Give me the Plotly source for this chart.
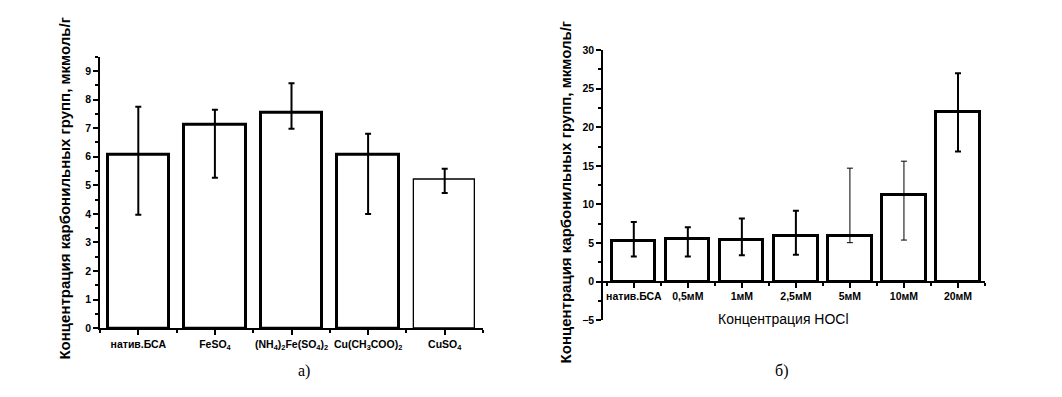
import plotly.graph_objects as go

# ---- data: panel a ----
cats_a = ["натив.БСА", "FeSO<sub>4</sub>", "(NH<sub>4</sub>)<sub>2</sub>Fe(SO<sub>4</sub>)<sub>2</sub>",
          "Cu(CH<sub>3</sub>COO)<sub>2</sub>", "CuSO<sub>4</sub>"]
vals_a = [6.08, 7.13, 7.53, 6.06, 5.21]
err_hi_a = [7.75, 7.64, 8.57, 6.80, 5.58]
err_lo_a = [3.97, 5.26, 6.98, 4.00, 4.73]

# ---- data: panel b ----
cats_b = ["натив.БСА", "0,5мМ", "1мМ", "2,5мМ", "5мМ", "10мМ", "20мМ"]
vals_b = [5.23, 5.52, 5.36, 5.94, 5.98, 11.3, 21.96]
err_hi_b = [7.74, 7.06, 8.19, 9.2, 14.7, 15.6, 26.98]
err_lo_b = [3.26, 3.26, 3.43, 3.51, 5.06, 5.4, 16.85]

ytitle = "Концентрация карбонильных групп, мкмоль/г"
xtitle_b = "Концентрация HOCl"

FONT = "Liberation Sans, Arial, sans-serif"

fig = go.Figure()

xa = list(range(len(cats_a)))
xb = list(range(len(cats_b)))

# bars panel a
fig.add_trace(go.Bar(
    x=xa, y=vals_a, width=0.8, xaxis="x", yaxis="y",
    marker=dict(color="white", line=dict(color="black", width=[3, 3, 3, 3, 1.3])),
    error_y=dict(type="data", symmetric=False,
                 array=[h - v for h, v in zip(err_hi_a, vals_a)],
                 arrayminus=[v - l for l, v in zip(err_lo_a, vals_a)],
                 color="black", thickness=2, width=3),
    showlegend=False, hoverinfo="skip"))

# bars panel b
fig.add_trace(go.Bar(
    x=xb, y=vals_b, width=0.8, xaxis="x2", yaxis="y2",
    marker=dict(color="white", line=dict(color="black", width=3)),
    showlegend=False, hoverinfo="skip"))

thin_b = [4, 5]
for group, th in (([i for i in xb if i not in thin_b], 2), (thin_b, 1)):
    fig.add_trace(go.Scatter(
        x=[xb[i] for i in group], y=[vals_b[i] for i in group],
        mode="markers", marker=dict(size=1, color="rgba(0,0,0,0)"),
        xaxis="x2", yaxis="y2",
        error_y=dict(type="data", symmetric=False,
                     array=[err_hi_b[i] - vals_b[i] for i in group],
                     arrayminus=[vals_b[i] - err_lo_b[i] for i in group],
                     color="black", thickness=th, width=3),
        showlegend=False, hoverinfo="skip"))

W, H = 1062, 397
OX, OY = 8, 8  # page body margin offset


def px(x):
    return (x - OX) / W


def py(y):
    return 1 - (y - OY) / H


ya_dom = [py(332), py(52)]
yb_dom = [py(324), py(45)]
yb_range = [-5, 30]
xb_pos = yb_dom[0] + (0 - yb_range[0]) / (yb_range[1] - yb_range[0]) * (yb_dom[1] - yb_dom[0])

tickfont = dict(family=FONT, size=10.5, color="black", weight="bold")
axline = dict(showline=True, linecolor="black", linewidth=1.5, showgrid=False,
              zeroline=False, ticks="outside", tickcolor="black", tickwidth=1.5)

fig.update_layout(
    width=W, height=H, margin=dict(l=0, r=0, t=0, b=0),
    paper_bgcolor="white", plot_bgcolor="white", bargap=0,
    xaxis=dict(domain=[px(100), px(483)], range=[-0.5, 4.5], anchor="y",
               tickvals=xa, ticktext=cats_a, ticklen=5, tickfont=tickfont,
               minor=dict(tick0=0.5, dtick=1, ticklen=3, ticks="outside", tickcolor="black"),
               **axline),
    yaxis=dict(domain=ya_dom, range=[0, 9.5], anchor="x", dtick=1, ticklen=5,
               tickfont=tickfont,
               minor=dict(dtick=0.5, ticklen=3, ticks="outside", tickcolor="black"),
               **axline),
    xaxis2=dict(domain=[px(603), px(985)], range=[-0.57, 6.5], anchor="free",
                position=xb_pos, tickvals=xb, ticktext=cats_b, ticklen=5,
                tickfont=tickfont,
                minor=dict(tick0=0.5, dtick=1, ticklen=3, ticks="outside", tickcolor="black"),
                **axline),
    yaxis2=dict(domain=yb_dom, range=yb_range, anchor="x2", dtick=5, ticklen=5,
                tickfont=tickfont,
                minor=dict(dtick=2.5, ticklen=3, ticks="outside", tickcolor="black"),
                **axline),
)

ann_font = dict(family=FONT, size=15, color="black", weight="bold")
common = dict(xref="paper", yref="paper", showarrow=False, xanchor="center", yanchor="middle")
fig.add_annotation(text=ytitle, x=px(65), y=py(188), textangle=-90, font=ann_font, **common)
fig.add_annotation(text=ytitle, x=px(565), y=py(192), textangle=-90, font=ann_font, **common)
fig.add_annotation(text=xtitle_b, x=px(783), y=py(323),
                   font=dict(family=FONT, size=14, color="black"), **common)
cap_font = dict(family="Liberation Serif, Times New Roman, serif", size=16, color="black")
fig.add_annotation(text="а)", x=px(304), y=py(376), font=cap_font, **common)
fig.add_annotation(text="б)", x=px(781), y=py(376), font=cap_font, **common)

fig.write_html("out.html")
